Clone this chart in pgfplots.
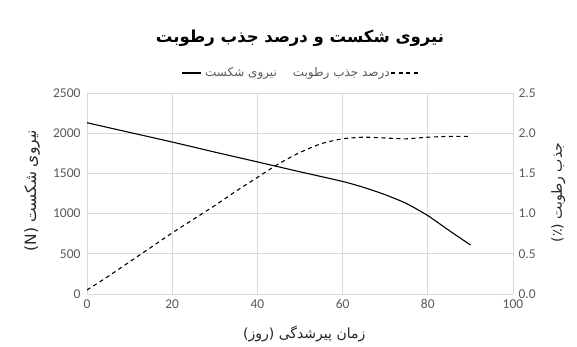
\documentclass[border=0pt]{standalone}
\usepackage{pgfplots}
\pgfplotsset{compat=1.18}
\usepackage{fontspec}
\setmainfont{Carlito}
\newfontfamily\fa[Script=Arabic]{DejaVu Sans}
\TeXXeTstate=1
\usetikzlibrary{calc}
\definecolor{tickc}{HTML}{595959}
\definecolor{gridc}{HTML}{D9D9D9}
\definecolor{labc}{HTML}{262626}

\pgfplotstableread{
x y
0 2130
10 2010
20 1890
30 1765
40 1643
50 1520
60 1400
65 1325
70 1235
75 1125
80 975
85 790
90 610
}\force

\pgfplotstableread{
x y
0 0.05
5 0.22
10 0.40
15 0.58
20 0.76
25 0.93
30 1.10
35 1.28
40 1.45
45 1.62
50 1.76
55 1.87
60 1.93
65 1.95
70 1.94
75 1.93
80 1.95
85 1.96
90 1.96
}\moist

\begin{document}
\begin{tikzpicture}
\pgfplotsset{
  common/.style={
    scale only axis, width=426pt, height=201pt,
    xmin=0, xmax=100,
    /pgf/number format/assume math mode=true,
    tick label style={font=\fontsize{13.5}{15}\selectfont, text=tickc},
    tick style={draw=none},
  }
}
\begin{axis}[common, name=ax,
  ymin=0, ymax=2500, ytick={0,500,...,2500},
  xtick={0,20,...,100},
  grid=major, major grid style={gridc, line width=0.8pt},
  axis line style={draw=none},
  scaled y ticks=false,
  yticklabel style={/pgf/number format/1000 sep={}},
  xticklabel style={yshift=-2pt},
  yticklabel style={xshift=-3pt},
  ylabel={\fa\beginR نیروی شکست \beginL(N)\endL\endR},
  ylabel style={at={(axis description cs:-0.129,0.515)}, anchor=center, font=\fontsize{15.5}{17}\selectfont, text=labc},
  xlabel={\fa\beginR زمان پیرشدگی (روز)\endR},
  xlabel style={at={(axis description cs:0.51,-0.2)}, anchor=center, font=\fontsize{14}{16}\selectfont, text=labc},
  title={\fa\bfseries\beginR نیروی شکست و درصد جذب رطوبت\endR},
  title style={at={(axis description cs:0.5,1.245)}, anchor=center, font=\fontsize{16.5}{19}\selectfont, text=black},
]
\addplot[black, line width=1.1pt, smooth, tension=0.4] table[x=x,y=y]{\force};
\end{axis}
\begin{axis}[common,
  ymin=0, ymax=2.5, ytick={0,0.5,...,2.5},
  axis y line*=right, axis x line=none,
  axis line style={draw=none},
  yticklabel style={/pgf/number format/fixed},
  yticklabel style={/pgf/number format/fixed zerofill},
  yticklabel style={/pgf/number format/precision=1},
  yticklabel style={xshift=2pt},
  ylabel={\fa\beginR جذب رطوبت \beginL(٪)\endL\endR},
  ylabel style={at={(axis description cs:1.106,0.505)}, anchor=center, rotate=0, font=\fontsize{14}{16}\selectfont, text=labc},
]
\addplot[black, line width=1.1pt, dashed, dash pattern=on 4pt off 3.5pt, smooth, tension=0.4] table[x=x,y=y]{\moist};
\end{axis}
% legend
\begin{scope}[font=\fontsize{12}{14}\selectfont, text=tickc]
\coordinate (l1) at ($(ax.south west)+(95pt,221pt)$);
\draw[black, line width=1.1pt] (l1) -- ++(19pt,0) coordinate (l1e);
\node[anchor=west, inner sep=0pt, xshift=4pt] at (l1e) {\fa\beginR نیروی شکست\endR};
\coordinate (l2) at ($(ax.south west)+(304pt,221pt)$);
\draw[black, line width=1.1pt, dash pattern=on 4pt off 3.5pt] (l2) -- ++(28pt,0);
\node[anchor=east, inner sep=0pt, xshift=-1pt] at (l2) {\fa\beginR درصد جذب رطوبت\endR};
\end{scope}
\path[use as bounding box] ($(ax.south west)+(-87pt,-53pt)$) rectangle ($(ax.north east)+(64pt,93pt)$);
\end{tikzpicture}
\end{document}
